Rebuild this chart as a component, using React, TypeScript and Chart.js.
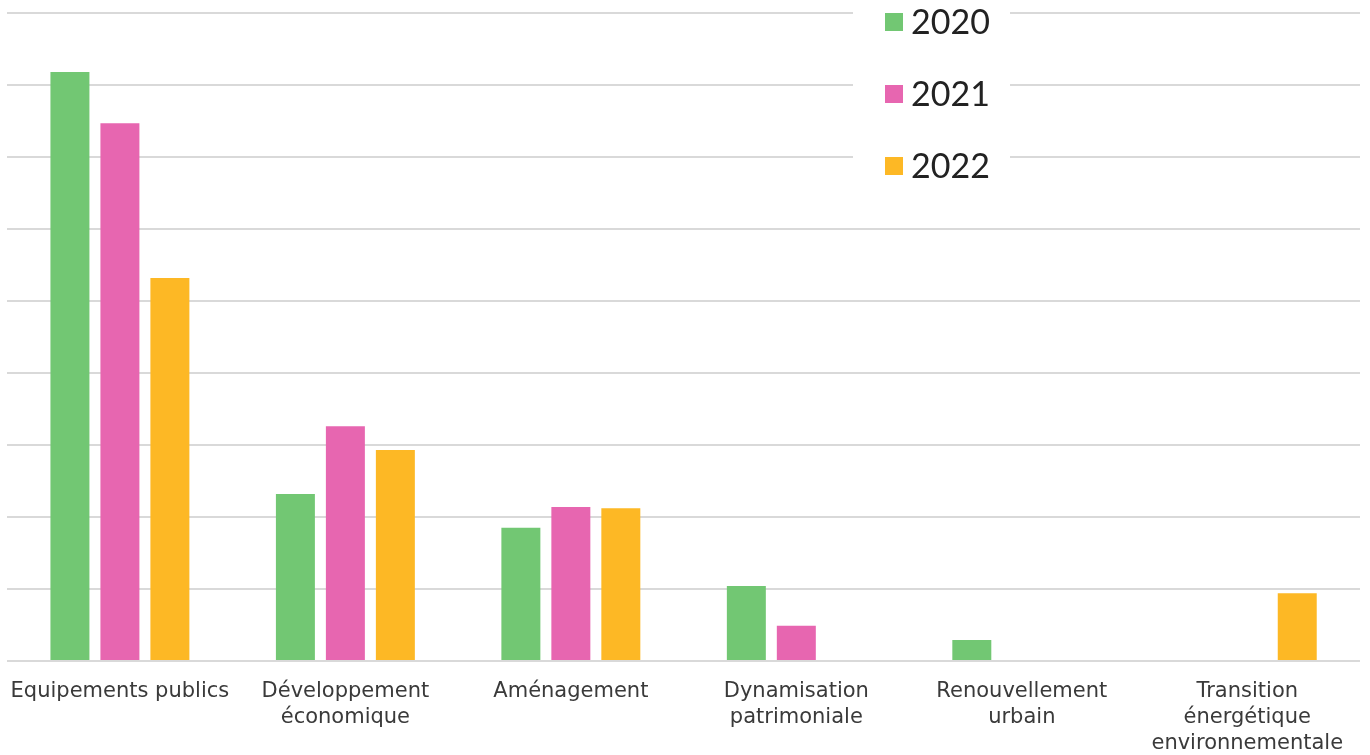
import React, { useEffect, useRef } from "react";
import { Chart, registerables } from "chart.js";

Chart.register(...registerables);

const categories: (string | string[])[] = [
  "Equipements publics",
  ["Développement", "économique"],
  "Aménagement",
  ["Dynamisation", "patrimoniale"],
  ["Renouvellement", "urbain"],
  ["Transition", "énergétique", "environnementale"],
];
const seriesNames = ["2020", "2021", "2022"];
const values2020 = [8.18, 2.32, 1.85, 1.04, 0.29, 0];
const values2021 = [7.47, 3.26, 2.14, 0.49, 0, 0];
const values2022 = [5.32, 2.93, 2.12, 0, 0, 0.94];
const colors = ["#72C773", "#E766B0", "#FDB825"];
const FONT = "Lato, 'Noto Sans', sans-serif";
const LABEL_FONT = "'DejaVu Sans', sans-serif";

const legendPlugin = {
  id: "customLegend",
  afterDatasetsDraw(chart: any) {
    const ctx = chart.ctx;
    const ds = chart.data.datasets;
    const y = chart.scales.y;
    ctx.save();
    ctx.fillStyle = "#ffffff";
    ctx.fillRect(853, 0, 157, 190);
    ds.forEach((d: any, i: number) => {
      const gy = y.getPixelForValue(9 - i) + 9;
      ctx.fillStyle = d.backgroundColor;
      ctx.fillRect(885, gy - 9, 18, 18);
      ctx.fillStyle = "#222222";
      ctx.font = `34px ${FONT}`;
      ctx.textBaseline = "middle";
      ctx.textAlign = "left";
      ctx.fillText(d.label, 911, gy + 1);
    });
    ctx.restore();
  },
};

export default function App() {
  const ref = useRef<HTMLCanvasElement>(null);
  useEffect(() => {
    const seriesValues = [values2020, values2021, values2022];
    const chart = new Chart(ref.current!, {
      type: "bar",
      data: {
        labels: categories,
        datasets: seriesNames.map((n, i) => ({
          label: n,
          data: seriesValues[i],
          backgroundColor: colors[i],
          categoryPercentage: 0.665,
          barPercentage: 0.78,
        })),
      },
      options: {
        animation: false,
        responsive: false,
        maintainAspectRatio: false,
        layout: { padding: { left: 7, right: 10, top: 13, bottom: 0 } },
        plugins: { legend: { display: false }, tooltip: { enabled: false } },
        scales: {
          x: {
            grid: { display: false },
            border: { display: false },
            afterFit: (scale: any) => {
              scale.height = 94;
            },
            ticks: {
              color: "#3a3a3a",
              font: { family: LABEL_FONT, size: 21, lineHeight: "26px" },
              maxRotation: 0,
              autoSkip: false,
              padding: 10,
            },
          },
          y: {
            min: 0,
            max: 9,
            ticks: { display: false, stepSize: 1 },
            border: { display: false },
            grid: { color: "#d9d9d9", lineWidth: 2, drawTicks: false },
          },
        },
      },
      plugins: [legendPlugin],
    });
    return () => chart.destroy();
  }, []);
  return (
    <div style={{ position: "absolute", left: 0, top: 0, width: 1370, height: 755, background: "#fff" }}>
      <canvas ref={ref} width={1370} height={755} />
    </div>
  );
}
